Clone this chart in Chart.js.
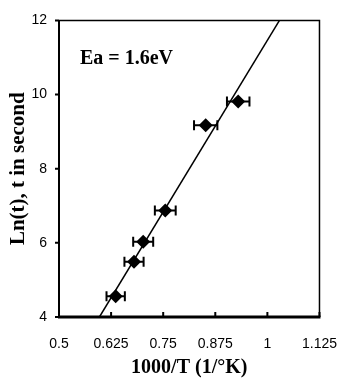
<!DOCTYPE html>
<html>
<head>
<meta charset="utf-8">
<script src="https://cdn.jsdelivr.net/npm/chart.js@4"></script>
<style>
  html, body { margin: 0; padding: 0; background: #fff; }
  #wrap { width: 356px; height: 380px; }
</style>
</head>
<body>
<div id="wrap"><canvas id="arrhenius"></canvas></div>
<script>
// data
const invTemp = [0.636, 0.680, 0.702, 0.755, 0.852, 0.930];   // 1000/T
const lnTime = [4.56, 5.49, 6.03, 6.87, 9.17, 9.81];           // Ln(t)
const invTempErr = [0.022, 0.023, 0.024, 0.025, 0.028, 0.027];  // +/- on 1000/T
const fitX = [0.597, 1.029];
const fitY = [4, 12];
const xTicks = [0.5, 0.625, 0.75, 0.875, 1, 1.125];
const yTicks = [4, 6, 8, 10, 12];

const sansFont = "'Liberation Sans', Arial, sans-serif";
const serifFont = "'Liberation Serif', 'Times New Roman', serif";

// horizontal error bars, frame, tick marks and the Ea note
const decorations = {
    id: 'decorations',
    afterDatasetsDraw(chart) {
        const ctx = chart.ctx;
        const xs = chart.scales.x, ys = chart.scales.y;
        ctx.save();
        ctx.strokeStyle = '#000';
        ctx.lineWidth = 2;
        invTemp.forEach((v, i) => {
            const x0 = xs.getPixelForValue(v - invTempErr[i]);
            const x1 = xs.getPixelForValue(v + invTempErr[i]);
            const y = ys.getPixelForValue(lnTime[i]);
            ctx.beginPath();
            ctx.moveTo(x0, y); ctx.lineTo(x1, y);
            ctx.moveTo(x0, y - 5); ctx.lineTo(x0, y + 5);
            ctx.moveTo(x1, y - 5); ctx.lineTo(x1, y + 5);
            ctx.stroke();
        });
        ctx.restore();
    },
    afterDraw(chart) {
        const ctx = chart.ctx;
        const a = chart.chartArea;
        const xs = chart.scales.x, ys = chart.scales.y;
        ctx.save();
        ctx.strokeStyle = '#000';
        // top + right
        ctx.lineWidth = 1.5;
        ctx.beginPath();
        ctx.moveTo(a.left, a.top); ctx.lineTo(a.right, a.top); ctx.lineTo(a.right, a.bottom);
        ctx.stroke();
        // left
        ctx.lineWidth = 2;
        ctx.beginPath();
        ctx.moveTo(a.left, a.top); ctx.lineTo(a.left, a.bottom);
        ctx.stroke();
        // bottom
        ctx.lineWidth = 3;
        ctx.beginPath();
        ctx.moveTo(a.left - 1, a.bottom); ctx.lineTo(a.right + 1, a.bottom);
        ctx.stroke();
        // tick marks
        ctx.lineWidth = 2;
        ctx.beginPath();
        xTicks.forEach(v => {
            const x = xs.getPixelForValue(v);
            ctx.moveTo(x, a.bottom); ctx.lineTo(x, a.bottom - 5);
        });
        yTicks.forEach(v => {
            const y = ys.getPixelForValue(v);
            ctx.moveTo(a.left, y); ctx.lineTo(a.left - 4, y);
        });
        ctx.stroke();
        // annotation
        ctx.fillStyle = '#000';
        ctx.font = 'bold 20px ' + serifFont;
        ctx.textBaseline = 'middle';
        ctx.fillText('Ea = 1.6eV', a.left + 21, a.top + 38);
        ctx.restore();
    }
};

new Chart(document.getElementById('arrhenius').getContext('2d'), {
    type: 'scatter',
    data: {
        datasets: [{
            data: invTemp.map((v, i) => ({ x: v, y: lnTime[i] })),
            pointStyle: 'rectRot',
            pointRadius: 7,
            backgroundColor: '#000',
            borderColor: '#000',
            borderWidth: 0,
        }, {
            data: fitX.map((v, i) => ({ x: v, y: fitY[i] })),
            showLine: true,
            borderColor: '#000',
            borderWidth: 1.5,
            pointRadius: 0,
        }],
    },
    options: {
        responsive: true,
        maintainAspectRatio: false,
        animation: false,
        layout: {
            padding: { top: 17, right: 21, left: 0, bottom: 0 }
        },
        plugins: {
            legend: { display: false },
            tooltip: { enabled: false }
        },
        scales: {
            x: {
                type: 'linear',
                min: 0.5,
                max: 1.125,
                afterBuildTicks: (s) => { s.ticks = xTicks.map(v => ({ value: v })); },
                afterFit: (s) => { s.height = 63; },
                border: { display: false },
                grid: { display: false, drawTicks: false },
                ticks: {
                    color: '#000',
                    padding: 19,
                    maxRotation: 0,
                    autoSkip: false,
                    font: { family: sansFont, size: 14 },
                    callback: (v) => String(v)
                },
                title: {
                    display: true,
                    text: '1000/T (1/°K)',
                    color: '#000',
                    padding: { top: 4, bottom: 0 },
                    font: { family: serifFont, size: 20, weight: 'bold' }
                }
            },
            y: {
                type: 'linear',
                min: 4,
                max: 12,
                afterBuildTicks: (s) => { s.ticks = yTicks.map(v => ({ value: v })); },
                afterFit: (s) => { s.width = 59; },
                border: { display: false },
                grid: { display: false, drawTicks: false },
                ticks: {
                    color: '#000',
                    padding: 12,
                    font: { family: sansFont, size: 14 },
                    callback: (v) => String(v)
                },
                title: {
                    display: true,
                    text: 'Ln(t), t in second',
                    color: '#000',
                    padding: { top: 6, bottom: 0 },
                    font: { family: serifFont, size: 21, weight: 'bold' }
                }
            }
        }
    },
    plugins: [decorations]
});
</script>
</body>
</html>
